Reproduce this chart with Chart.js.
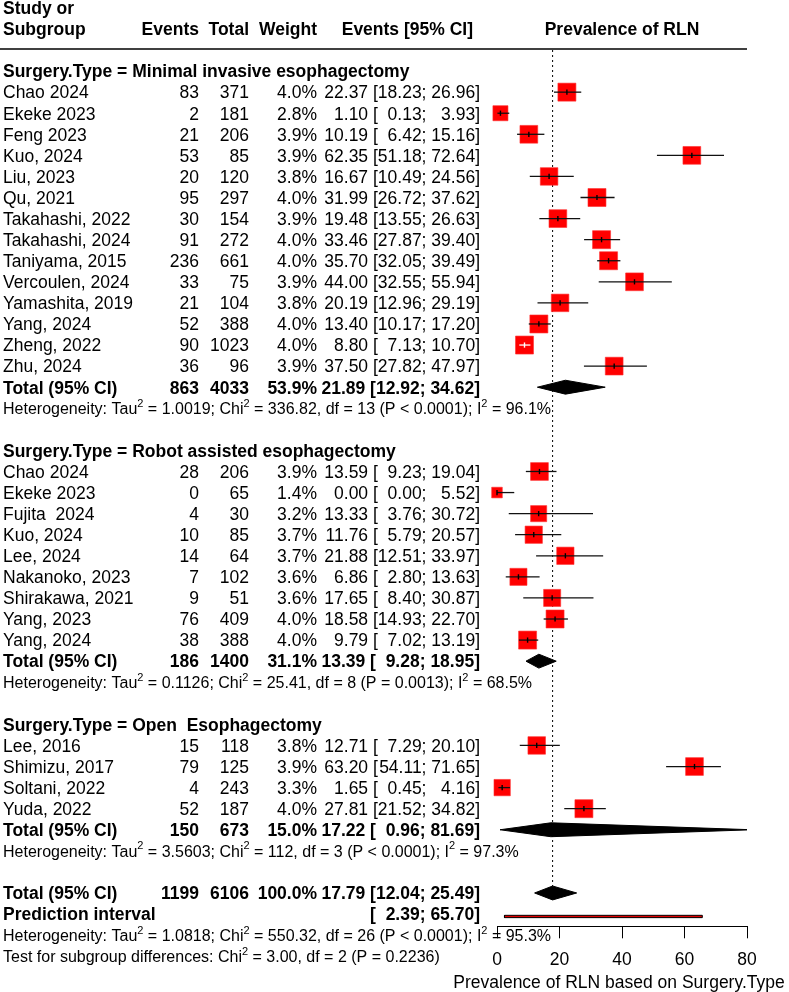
<!DOCTYPE html>
<html><head><meta charset="utf-8">
<script src="https://cdn.jsdelivr.net/npm/chart.js@4.4.1/dist/chart.umd.min.js"></script>
<style>html,body{margin:0;padding:0;background:#fff;} #wrap{width:789px;height:992px;position:relative;}</style>
</head><body><div id="wrap"><canvas id="c"></canvas></div>
<script>
// ---------------- data ----------------
const groupLabels = ['Surgery.Type = Minimal invasive esophagectomy', 'Surgery.Type = Robot assisted esophagectomy', 'Surgery.Type = Open  Esophagectomy'];
const studyNames = ['Chao 2024','Ekeke 2023','Feng 2023','Kuo, 2024','Liu, 2023','Qu, 2021','Takahashi, 2022','Takahashi, 2024','Taniyama, 2015','Vercoulen, 2024','Yamashita, 2019','Yang, 2024','Zheng, 2022','Zhu, 2024',
  'Chao 2024','Ekeke 2023','Fujita  2024','Kuo, 2024','Lee, 2024','Nakanoko, 2023','Shirakawa, 2021','Yang, 2023','Yang, 2024',
  'Lee, 2016','Shimizu, 2017','Soltani, 2022','Yuda, 2022'];
const studyGroup = [0,0,0,0,0,0,0,0,0,0,0,0,0,0, 1,1,1,1,1,1,1,1,1, 2,2,2,2];
const studyEvents = [83,2,21,53,20,95,30,91,236,33,21,52,90,36, 28,0,4,10,14,7,9,76,38, 15,79,4,52];
const studyTotals = [371,181,206,85,120,297,154,272,661,75,104,388,1023,96, 206,65,30,85,64,102,51,409,388, 118,125,243,187];
const studyWeights = [4.0,2.8,3.9,3.9,3.8,4.0,3.9,4.0,4.0,3.9,3.8,4.0,4.0,3.9, 3.9,1.4,3.2,3.7,3.7,3.6,3.6,4.0,4.0, 3.8,3.9,3.3,4.0];
const studyEst = [22.37,1.10,10.19,62.35,16.67,31.99,19.48,33.46,35.70,44.00,20.19,13.40,8.80,37.50, 13.59,0.00,13.33,11.76,21.88,6.86,17.65,18.58,9.79, 12.71,63.20,1.65,27.81];
const studyLo = [18.23,0.13,6.42,51.18,10.49,26.72,13.55,27.87,32.05,32.55,12.96,10.17,7.13,27.82, 9.23,0.00,3.76,5.79,12.51,2.80,8.40,14.93,7.02, 7.29,54.11,0.45,21.52];
const studyHi = [26.96,3.93,15.16,72.64,24.56,37.62,26.63,39.40,39.49,55.94,29.19,17.20,10.70,47.97, 19.04,5.52,30.72,20.57,33.97,13.63,30.87,22.70,13.19, 20.10,71.65,4.16,34.82];

const groupEvents = [863,186,150];
const groupTotals = [4033,1400,673];
const groupWeights = [53.9,31.1,15.0];
const groupEst = [21.89,13.39,17.22];
const groupLo = [12.92,9.28,0.96];
const groupHi = [34.62,18.95,81.69];
const groupTau2 = ['1.0019','0.1126','3.5603'];
const groupChi2 = ['336.82','25.41','112'];
const groupDf = ['13','8','3'];
const groupP = ['< 0.0001','= 0.0013','< 0.0001'];
const groupI2 = ['96.1','68.5','97.3'];

const overallEvents = 1199, overallTotal = 6106, overallWeight = '100.0';
const overallEst = 17.79, overallLo = 12.04, overallHi = 25.49;
const predLo = 2.39, predHi = 65.70;
const overallTau2 = '1.0818', overallChi2 = '550.32', overallDf = '26', overallP = '< 0.0001', overallI2 = '95.3';
const testChi2 = '3.00', testDf = '2', testP = '= 0.2236';

const xTicks = [0,20,40,60,80];
const xTitle = 'Prevalence of RLN based on Surgery.Type';

// ---------------- layout of rows ----------------
const FONT = '"Liberation Sans", Arial, Helvetica, sans-serif';
const headerRow = [], totalRow = [], hetRow = [], studyRow = [];
let r = -1;
for (let g = 0; g < 3; g++) {
  headerRow[g] = r; r++;
  studyNames.forEach((n, i) => { if (studyGroup[i] === g) { studyRow[i] = r; r++; } });
  totalRow[g] = r; r++;
  hetRow[g] = r; r++;
  r++; // blank
}
const OV = r; // overall total row
const PI = OV + 1, HETALL = OV + 2, TEST = OV + 3;

const side = w => 9 * Math.sqrt(w);
const ciWhite = studyNames.map((n, i) => {
  const half = 3.5 * Math.sqrt(studyWeights[i]) / 3.125;
  return studyLo[i] > studyEst[i] - half && studyHi[i] < studyEst[i] + half;
});

// datasets
const squares = {
  type: 'scatter', label: 'studies',
  data: studyEst.map((e, i) => ({x: e, y: studyRow[i]})),
  pointStyle: 'rect',
  pointRadius: studyWeights.map(w => side(w) / Math.SQRT2),
  pointBackgroundColor: '#ff0000', pointBorderColor: '#ff3030', pointBorderWidth: 0.6,
  clip: false, order: 5
};
const ciData = [];
studyEst.forEach((e, i) => { ciData.push({x: studyLo[i], y: studyRow[i]}, {x: studyHi[i], y: studyRow[i]}, {x: studyHi[i], y: null}); });
const ciLines = {
  type: 'line', label: 'ci', data: ciData, showLine: true, spanGaps: false,
  borderColor: '#000', borderWidth: 1.3, pointRadius: 0, clip: false, order: 4,
  segment: { borderColor: c => ciWhite[Math.floor(c.p0DataIndex / 3)] ? '#ffffff' : '#111111' }
};
const estTicks = {
  type: 'scatter', label: 'est', data: studyEst.map((e, i) => ({x: e, y: studyRow[i]})),
  pointStyle: 'line', pointRotation: 90, pointRadius: 2.6,
  pointBorderColor: ciWhite.map(w => w ? '#ffffff' : '#000000'), pointBorderWidth: 1.4,
  clip: false, order: 3
};
function diamond(est, lo, hi, row, lbl) {
  const h = 0.33;
  return {
    type: 'line', label: lbl,
    data: [{x: lo, y: row}, {x: est, y: row - h}, {x: hi, y: row}, {x: est, y: row + h}, {x: lo, y: row}],
    borderColor: '#000', backgroundColor: '#000', borderWidth: 1, fill: 'shape', pointRadius: 0, tension: 0, order: 2
  };
}
const diamonds = groupEst.map((e, g) => diamond(e, groupLo[g], groupHi[g], totalRow[g], 'sub' + g));
diamonds.push(diamond(overallEst, overallLo, overallHi, OV, 'overall'));
const piRect = {
  type: 'line', label: 'pi',
  data: [{x: predLo, y: PI + 0.06}, {x: predLo, y: PI + 0.17}, {x: predHi, y: PI + 0.17}, {x: predHi, y: PI + 0.06}, {x: predLo, y: PI + 0.06}],
  borderColor: '#000', backgroundColor: '#e00000', borderWidth: 1, fill: 'shape', pointRadius: 0, order: 2
};
const refLine = {
  type: 'line', label: 'ref', data: [{x: overallEst, y: -2}, {x: overallEst, y: OV - 0.33}],
  borderColor: '#000', borderWidth: 1, borderDash: [2, 3], pointRadius: 0, order: 6
};

// ---------------- text ----------------
const EV_R = 199, TOT_R = 249, W_R = 317, CI_R = 480;
function txt(ctx, s, x, y, align, bold, size) {
  ctx.font = (bold ? 'bold ' : '') + (size || 17.5) + 'px ' + FONT;
  ctx.textAlign = align; ctx.textBaseline = 'middle'; ctx.fillStyle = '#000';
  ctx.fillText(s, x, y);
}
function rich(ctx, parts, x, y) {
  ctx.textBaseline = 'middle'; ctx.fillStyle = '#000'; ctx.textAlign = 'left';
  parts.forEach(p => {
    const sup = p[1];
    ctx.font = (sup ? '11px ' : '16px ') + FONT;
    ctx.fillText(p[0], x, sup ? y - 6 : y);
    x += ctx.measureText(p[0]).width;
  });
}
function hetParts(tau, chi, df, p, i2) {
  return [['Heterogeneity: Tau'], ['2', 1], [' = ' + tau + '; Chi'], ['2', 1], [' = ' + chi + ', df = ' + df + ' (P ' + p + '); I'], ['2', 1], [' = ' + i2 + '%']];
}
function drawCI(ctx, est, lo, hi, R, y, bold) {
  ctx.font = (bold ? 'bold ' : '') + '17.5px ' + FONT;
  ctx.textBaseline = 'middle'; ctx.fillStyle = '#000'; ctx.textAlign = 'right';
  const w = s => ctx.measureText(s).width;
  let x = R;
  ctx.fillText(']', x, y); x -= w(']');
  ctx.fillText(hi.toFixed(2), x, y); x -= w('00.00') + w(' ');
  ctx.fillText(';', x, y); x -= w(';');
  ctx.fillText(lo.toFixed(2), x, y); x -= w('00.00');
  ctx.fillText('[', x, y); x -= w('[') + w(' ');
  if (est !== null) ctx.fillText(est.toFixed(2), x, y);
}

const forestText = {
  id: 'forestText',
  beforeDraw(chart) {
    const c = chart.ctx; c.save(); c.fillStyle = '#fff'; c.fillRect(0, 0, chart.width, chart.height); c.restore();
  },
  afterDraw(chart) {
    const c = chart.ctx, ys = chart.scales.y, xs = chart.scales.x;
    const Y = row => ys.getPixelForValue(row) + 1.5;
    c.save();
    // column headers
    txt(c, 'Study or', 3, Y(-4), 'left', true);
    txt(c, 'Subgroup', 3, Y(-3), 'left', true);
    txt(c, 'Events', EV_R, Y(-3), 'right', true);
    txt(c, 'Total', TOT_R, Y(-3), 'right', true);
    txt(c, 'Weight', W_R, Y(-3), 'right', true);
    txt(c, 'Events [95% CI]', 473, Y(-3), 'right', true);
    txt(c, 'Prevalence of RLN', (xs.getPixelForValue(0) + xs.getPixelForValue(80)) / 2, Y(-3), 'center', true);
    c.strokeStyle = '#000'; c.lineWidth = 1.4;
    c.beginPath(); c.moveTo(0, 49); c.lineTo(xs.getPixelForValue(80), 49); c.stroke();
    // groups
    for (let g = 0; g < 3; g++) {
      txt(c, groupLabels[g], 3, Y(headerRow[g]), 'left', true);
      studyNames.forEach((n, i) => {
        if (studyGroup[i] !== g) return;
        const y = Y(studyRow[i]);
        txt(c, n, 3, y, 'left', false);
        txt(c, String(studyEvents[i]), EV_R, y, 'right', false);
        txt(c, String(studyTotals[i]), TOT_R, y, 'right', false);
        txt(c, studyWeights[i].toFixed(1) + '%', W_R, y, 'right', false);
        drawCI(c, studyEst[i], studyLo[i], studyHi[i], CI_R, y, false);
      });
      const yt = Y(totalRow[g]);
      txt(c, 'Total (95% CI)', 3, yt, 'left', true);
      txt(c, String(groupEvents[g]), EV_R, yt, 'right', true);
      txt(c, String(groupTotals[g]), TOT_R, yt, 'right', true);
      txt(c, groupWeights[g].toFixed(1) + '%', W_R, yt, 'right', true);
      drawCI(c, groupEst[g], groupLo[g], groupHi[g], CI_R, yt, true);
      rich(c, hetParts(groupTau2[g], groupChi2[g], groupDf[g], groupP[g], groupI2[g]), 3, Y(hetRow[g]));
    }
    const yo = Y(OV);
    txt(c, 'Total (95% CI)', 3, yo, 'left', true);
    txt(c, String(overallEvents), EV_R, yo, 'right', true);
    txt(c, String(overallTotal), TOT_R, yo, 'right', true);
    txt(c, overallWeight + '%', W_R, yo, 'right', true);
    drawCI(c, overallEst, overallLo, overallHi, CI_R, yo, true);
    txt(c, 'Prediction interval', 3, Y(PI), 'left', true);
    drawCI(c, null, predLo, predHi, CI_R, Y(PI), true);
    rich(c, hetParts(overallTau2, overallChi2, overallDf, overallP, overallI2), 3, Y(HETALL));
    rich(c, [['Test for subgroup differences: Chi'], ['2', 1], [' = ' + testChi2 + ', df = ' + testDf + ' (P ' + testP + ')']], 3, Y(TEST));
    // x-axis title
    txt(c, xTitle, 619, 983, 'center', false, 17.5);
    c.restore();
  }
};

new Chart(document.getElementById('c'), {
  type: 'scatter',
  data: { datasets: [squares, ciLines, estTicks, ...diamonds, piRect, refLine] },
  options: {
    responsive: true, maintainAspectRatio: false, animation: false,
    layout: { padding: { left: 497, right: 42, top: 50, bottom: 0 } },
    plugins: { legend: { display: false }, tooltip: { enabled: false } },
    events: [],
    scales: {
      x: {
        type: 'linear', min: xTicks[0], max: xTicks[xTicks.length - 1],
        afterBuildTicks: s => { s.ticks = xTicks.map(v => ({ value: v })); },
        ticks: { color: '#000', font: { family: FONT, size: 17.5 }, padding: 11, maxRotation: 0, autoSkip: false },
        grid: { drawOnChartArea: false, drawTicks: true, tickLength: 11.6, color: '#000', lineWidth: 1 },
        border: { display: true, color: '#000', width: 1 },
        title: { display: false },
        afterFit: s => { s.height = 65.3; }
      },
      y: { type: 'linear', display: false, reverse: true, min: -2, max: 39.6 }
    }
  },
  plugins: [forestText]
});
</script></body></html>
